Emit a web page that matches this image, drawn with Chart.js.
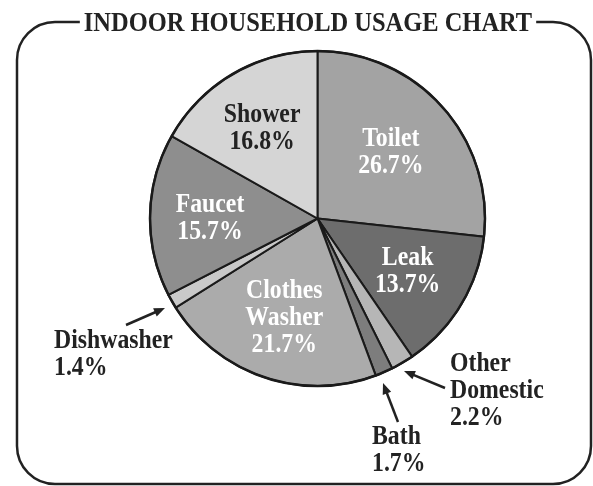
<!DOCTYPE html>
<html lang="en">
<head>
  <title>Indoor Household Usage Chart</title>
  <style>
    body { margin: 0; background: #fff; }
    canvas { display: block; }
  </style>
</head>
<body>
  <canvas id="myChart" width="593" height="486"></canvas>
  <script src="https://cdn.jsdelivr.net/npm/chart.js"></script>
  <script>
    const title = 'INDOOR HOUSEHOLD USAGE CHART'
    const categories = ['Toilet', 'Leak', 'Other Domestic', 'Bath', 'Clothes Washer', 'Dishwasher', 'Faucet', 'Shower']
    const shares = [26.7, 13.7, 2.2, 1.7, 21.7, 1.4, 15.7, 16.8]
    const sliceColors = ['#a3a3a3', '#6d6d6d', '#b6b6b6', '#7d7d7d', '#ababab', '#c9c9c9', '#8e8e8e', '#d5d5d5']
    // how each label is split over lines
    const labelLines = [['Toilet'], ['Leak'], ['Other', 'Domestic'], ['Bath'], ['Clothes', 'Washer'], ['Dishwasher'], ['Faucet'], ['Shower']]

    const FONT = 'bold 27px "Liberation Serif", "Times New Roman", serif'
    const SQUEEZE = 0.88
    const INK = '#222'
    const LH = 27

    // where each label goes: inside ones are placed by angle/radius fraction,
    // outside ones get an anchor plus an arrow
    const placement = [
      { r: 0.62, color: '#fff', dx: -4, dy: 1.5 },
      { r: 0.62, color: '#fff', dx: 1, dy: -2 },
      { out: true, x: 450, y: 371, arrow: [445, 388, 404, 371] },
      { out: true, x: 372, y: 444, arrow: [398, 422, 383, 383] },
      { r: 0.58, color: '#fff', dx: -2, dy: 5 },
      { out: true, x: 54, y: 348, arrow: [126, 325, 165, 308] },
      { r: 0.6, color: '#fff', dx: -7, dy: 0 },
      { r: 0.62, color: INK, dx: -3, dy: -2 }
    ]

    function squeezedText(ctx, txt, x, y, align, sq) {
      ctx.save()
      ctx.translate(x, y)
      ctx.scale(sq || SQUEEZE, 1)
      ctx.textAlign = align
      ctx.fillText(txt, 0, 0)
      ctx.restore()
    }

    function arrow(ctx, x1, y1, x2, y2) {
      const a = Math.atan2(y2 - y1, x2 - x1)
      const len = 11, wid = 4.5
      ctx.save()
      ctx.strokeStyle = INK
      ctx.fillStyle = INK
      ctx.lineWidth = 2.5
      ctx.beginPath()
      ctx.moveTo(x1, y1)
      ctx.lineTo(x2 - Math.cos(a) * len * 0.8, y2 - Math.sin(a) * len * 0.8)
      ctx.stroke()
      ctx.beginPath()
      ctx.moveTo(x2, y2)
      ctx.lineTo(x2 - Math.cos(a) * len - Math.sin(a) * wid, y2 - Math.sin(a) * len + Math.cos(a) * wid)
      ctx.lineTo(x2 - Math.cos(a) * len + Math.sin(a) * wid, y2 - Math.sin(a) * len - Math.cos(a) * wid)
      ctx.closePath()
      ctx.fill()
      ctx.restore()
    }

    const frameAndLabels = {
      id: 'frameAndLabels',
      beforeDraw(chart) {
        const ctx = chart.ctx
        const titleSq = 0.906
        ctx.save()
        ctx.font = FONT
        const tw = ctx.measureText(title).width * titleSq
        const cx = 308
        const gapL = cx - tw / 2 - 4, gapR = cx + tw / 2 + 4
        const L = 17, T = 22, R = 591, B = 484, rad = 38
        ctx.strokeStyle = INK
        ctx.lineWidth = 2.5
        ctx.beginPath()
        ctx.moveTo(gapR, T)
        ctx.lineTo(R - rad, T)
        ctx.arcTo(R, T, R, T + rad, rad)
        ctx.lineTo(R, B - rad)
        ctx.arcTo(R, B, R - rad, B, rad)
        ctx.lineTo(L + rad, B)
        ctx.arcTo(L, B, L, B - rad, rad)
        ctx.lineTo(L, T + rad)
        ctx.arcTo(L, T, L + rad, T, rad)
        ctx.lineTo(gapL, T)
        ctx.stroke()
        ctx.fillStyle = INK
        ctx.textBaseline = 'alphabetic'
        squeezedText(ctx, title, cx, 31, 'center', titleSq)
        ctx.restore()
      },
      afterDatasetsDraw(chart) {
        const ctx = chart.ctx
        const arcs = chart.getDatasetMeta(0).data
        const first = arcs[0]
        ctx.save()
        // heavier outer rim
        ctx.strokeStyle = '#1a1a1a'
        ctx.lineWidth = 2.5
        ctx.beginPath()
        ctx.arc(first.x, first.y, first.outerRadius, 0, Math.PI * 2)
        ctx.stroke()

        ctx.font = FONT
        ctx.textBaseline = 'alphabetic'
        arcs.forEach((arc, i) => {
          const p = placement[i]
          const lines = labelLines[i].concat([shares[i].toFixed(1) + '%'])
          if (p.out) {
            ctx.fillStyle = INK
            lines.forEach((t, k) => squeezedText(ctx, t, p.x, p.y + k * LH, 'left'))
            arrow(ctx, ...p.arrow)
          } else {
            const mid = (arc.startAngle + arc.endAngle) / 2
            const rr = arc.outerRadius * p.r
            const x = arc.x + Math.cos(mid) * rr + (p.dx || 0)
            const y = arc.y + Math.sin(mid) * rr + (p.dy || 0)
            const top = y - (lines.length - 1) * LH / 2 + 9
            ctx.fillStyle = p.color
            lines.forEach((t, k) => squeezedText(ctx, t, x, top + k * LH, 'center'))
          }
        })
        ctx.restore()
      }
    }

    const ctx = document.getElementById('myChart').getContext('2d')
    const myChart = new Chart(ctx, {
      type: 'pie',
      data: {
        labels: categories,
        datasets: [{
          data: shares,
          backgroundColor: sliceColors,
          borderColor: '#1a1a1a',
          borderWidth: 2,
          borderJoinStyle: 'miter'
        }]
      },
      options: {
        responsive: false,
        animation: false,
        layout: { padding: { left: 149, right: 107, top: 50, bottom: 99 } },
        plugins: {
          legend: { display: false },
          tooltip: { enabled: false },
          title: { display: false }
        }
      },
      plugins: [frameAndLabels]
    })
  </script>
</body>
</html>
